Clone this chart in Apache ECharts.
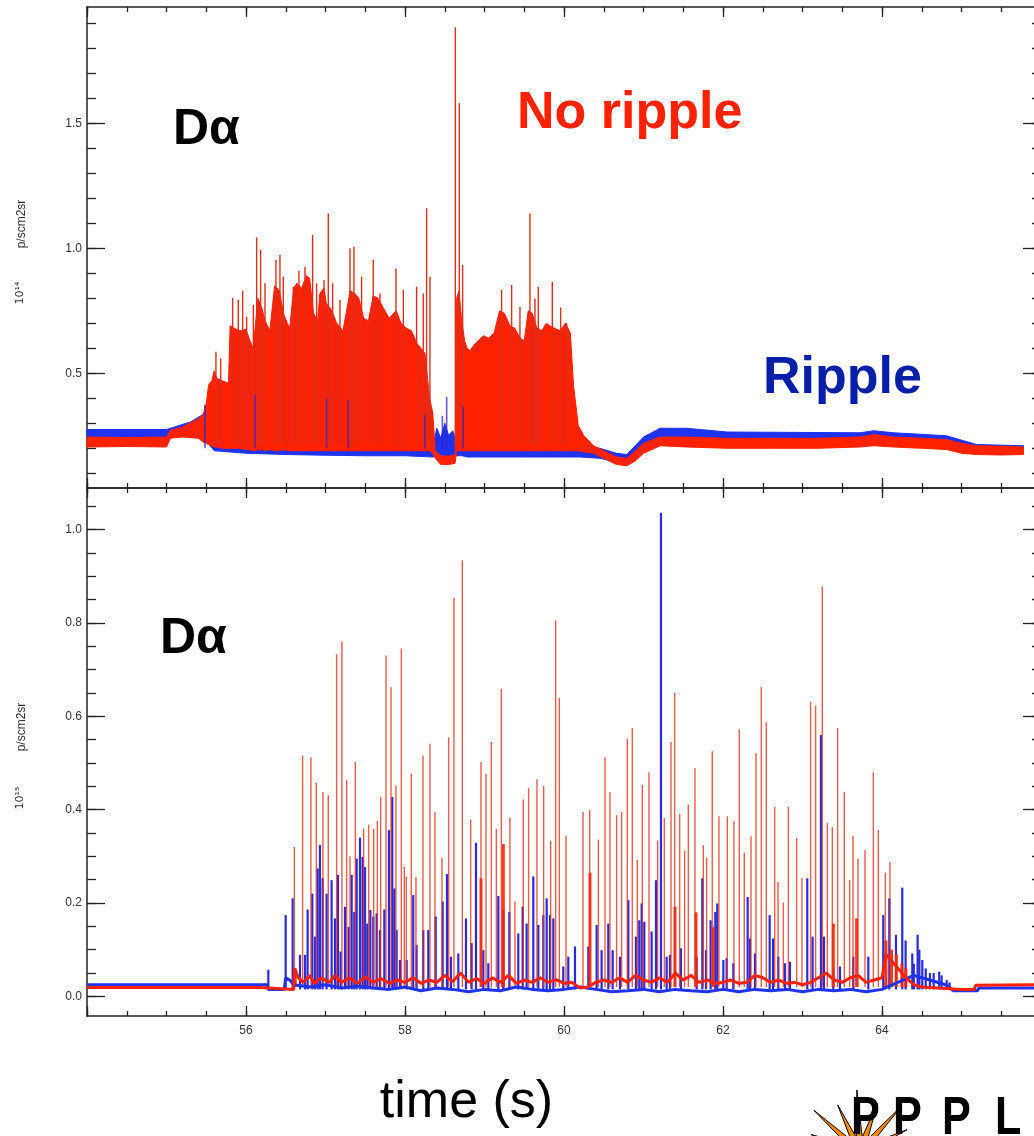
<!DOCTYPE html>
<html><head><meta charset="utf-8">
<script src="https://cdn.jsdelivr.net/npm/echarts@6/dist/echarts.min.js"></script>
<style>html,body{margin:0;padding:0;background:#fff}#c{width:1034px;height:1136px}</style>
</head><body><div id="c"></div>
<script>
// ================= DATA =================
// x axis (time, s)
const xMajorTicks = [54,56,58,60,62,64,66];
const xMinorTicks = [54,54.5,55,55.5,56,56.5,57,57.5,58,58.5,59,59.5,60,60.5,61,61.5,62,62.5,63,63.5,64,64.5,65,65.5,66];
const xTickLabels = [56,58,60,62,64];
// top panel y (10^14 p/scm2sr)
const topYMajor = [0.5,1.0,1.5];
const topYMinor = [0.1,0.2,0.3,0.4,0.5,0.6,0.7,0.8,0.9,1.0,1.1,1.2,1.3,1.4,1.5,1.6,1.7,1.8,1.9];
// bottom panel y (10^15 p/scm2sr)
const botYMajor = [0.0,0.2,0.4,0.6,0.8,1.0];
const botYMinor = [0,0.05,0.1,0.15,0.2,0.25,0.3,0.35,0.4,0.45,0.5,0.55,0.6,0.65,0.7,0.75,0.8,0.85,0.9,0.95,1.0,1.05];

// Top panel, Ripple (blue): [t, low, high] envelope of the trace
const topBlueBand = [
 [54.00,0.24,0.275],[55.00,0.24,0.275],[55.10,0.25,0.285],[55.30,0.27,0.305],[55.46,0.285,0.335],
 [55.50,0.23,0.32],[55.60,0.19,0.235],[56.00,0.18,0.225],[56.50,0.175,0.215],[57.00,0.172,0.215],
 [57.50,0.17,0.21],[58.00,0.17,0.21],[58.35,0.165,0.205],[58.40,0.17,0.28],[58.45,0.17,0.24],
 [58.50,0.17,0.30],[58.55,0.165,0.25],[58.60,0.165,0.27],[58.65,0.17,0.22],[58.72,0.17,0.30],
 [58.78,0.165,0.24],[58.85,0.165,0.21],[59.50,0.165,0.205],[60.20,0.165,0.205],[60.45,0.16,0.20],
 [60.66,0.145,0.18],[60.79,0.145,0.175],[61.00,0.19,0.245],[61.21,0.225,0.28],[61.54,0.225,0.28],
 [62.05,0.22,0.265],[63.72,0.22,0.262],[63.90,0.225,0.27],[64.14,0.22,0.262],[64.81,0.21,0.25],
 [65.19,0.185,0.215],[65.78,0.18,0.21]
];
// Top panel, No ripple (red): [t, low, high] envelope of the dense ELM trace
const topRedBand = [
 [54.00,0.205,0.245],[54.50,0.207,0.243],[55.00,0.205,0.245],[55.05,0.240,0.272],[55.20,0.245,0.285],
 [55.40,0.240,0.318],[55.46,0.225,0.333],[55.50,0.220,0.38],[55.53,0.215,0.453],[55.57,0.21,0.47],
 [55.60,0.205,0.51],[55.63,0.205,0.48],[55.70,0.20,0.47],[55.78,0.20,0.46],[55.80,0.20,0.69],
 [55.85,0.20,0.68],[55.92,0.20,0.67],[56.00,0.195,0.675],[56.05,0.195,0.63],[56.09,0.19,0.60],
 [56.12,0.19,0.70],[56.15,0.195,0.80],[56.20,0.195,0.76],[56.24,0.19,0.71],[56.30,0.195,0.67],
 [56.36,0.19,0.85],[56.42,0.19,0.83],[56.47,0.195,0.74],[56.52,0.19,0.70],[56.55,0.19,0.68],
 [56.60,0.19,0.84],[56.64,0.19,0.86],[56.70,0.19,0.84],[56.76,0.19,0.89],[56.80,0.19,0.88],
 [56.85,0.19,0.74],[56.90,0.19,0.71],[56.93,0.19,0.82],[56.98,0.19,0.84],[57.01,0.19,0.78],
 [57.08,0.19,0.75],[57.14,0.19,0.70],[57.22,0.19,0.67],[57.31,0.19,0.83],[57.36,0.19,0.82],
 [57.42,0.19,0.80],[57.48,0.19,0.72],[57.54,0.19,0.71],[57.60,0.19,0.81],[57.66,0.19,0.80],
 [57.73,0.19,0.76],[57.80,0.19,0.72],[57.89,0.19,0.75],[57.95,0.19,0.70],[58.02,0.19,0.68],
 [58.08,0.19,0.67],[58.15,0.19,0.62],[58.20,0.19,0.60],[58.25,0.19,0.58],[58.31,0.19,0.40],
 [58.35,0.18,0.34],[58.38,0.16,0.19],[58.45,0.135,0.17],[58.55,0.135,0.168],[58.63,0.14,0.175],
 [58.65,0.19,0.80],[58.68,0.19,0.83],[58.71,0.19,0.72],[58.75,0.19,0.63],[58.78,0.19,0.60],
 [58.82,0.19,0.59],[58.86,0.19,0.61],[58.92,0.19,0.63],[58.99,0.19,0.65],[59.05,0.19,0.64],
 [59.12,0.19,0.66],[59.19,0.19,0.75],[59.25,0.19,0.74],[59.32,0.19,0.69],[59.38,0.19,0.68],
 [59.45,0.19,0.64],[59.50,0.19,0.63],[59.55,0.19,0.75],[59.60,0.19,0.74],[59.66,0.19,0.68],
 [59.72,0.19,0.67],[59.78,0.19,0.70],[59.82,0.19,0.69],[59.88,0.19,0.68],[59.95,0.19,0.67],
 [60.02,0.19,0.70],[60.08,0.19,0.66],[60.12,0.19,0.45],[60.18,0.19,0.29],[60.25,0.185,0.25],
 [60.37,0.18,0.21],[60.50,0.16,0.19],[60.66,0.135,0.165],[60.79,0.13,0.16],[60.90,0.15,0.19],
 [61.00,0.18,0.22],[61.21,0.21,0.245],[61.54,0.205,0.245],[62.05,0.20,0.24],[62.60,0.20,0.24],
 [63.20,0.20,0.24],[63.72,0.205,0.245],[63.90,0.21,0.255],[64.14,0.205,0.245],[64.50,0.20,0.24],
 [64.81,0.195,0.235],[65.00,0.18,0.22],[65.19,0.175,0.21],[65.50,0.173,0.208],[65.78,0.175,0.205]
];
// Top panel, red individual ELM spikes: [t, peak]
const topRedSpikes = [
 [55.484,0.373],[55.622,0.586],[55.681,0.560],[55.832,0.802],[55.903,0.793],[55.958,0.830],
 [56.008,0.726],[56.092,0.773],[56.134,1.043],[56.184,0.993],[56.239,0.860],[56.377,0.953],
 [56.427,0.973],[56.469,0.886],[56.595,0.846],[56.666,0.910],[56.742,0.926],[56.838,1.053],
 [56.888,0.860],[56.981,0.873],[57.035,1.139],[57.090,0.860],[57.182,0.793],[57.308,1.000],
 [57.358,1.006],[57.454,0.886],[57.601,0.953],[57.685,0.819],[57.886,0.919],[57.979,0.833],
 [58.146,0.846],[58.230,0.819],[58.272,1.160],[58.314,0.886],[58.633,1.884],[58.683,1.580],
 [58.725,0.933],[59.215,0.833],[59.341,0.853],[59.446,0.766],[59.572,1.139],[59.635,0.799],
 [59.677,0.846],[59.853,0.866],[59.958,0.763],[60.033,0.700]
];
// Top panel, blue spikes: [t, peak]
const topBlueSpikes = [
 [55.484,0.370],[56.113,0.413],[57.014,0.400],[57.287,0.393],[58.251,0.333],
 [58.470,0.330],[58.524,0.406],[58.730,0.366]
];

// Bottom panel baselines: [t, value]
const botBlueBase = [
 [54.00,0.025],[56.26,0.025],[56.28,0.015],[56.48,0.015],[56.50,0.04],[56.55,0.035],[56.60,0.025],
 [56.80,0.02],[57.00,0.025],[57.20,0.018],[57.40,0.022],[57.60,0.018],[57.80,0.015],[58.00,0.02],
 [58.20,0.012],[58.40,0.018],[58.60,0.015],[58.80,0.01],[59.00,0.015],[59.20,0.012],[59.40,0.02],
 [59.60,0.015],[59.80,0.012],[60.00,0.015],[60.20,0.02],[60.40,0.015],[60.60,0.01],[60.80,0.012],
 [61.00,0.015],[61.20,0.01],[61.40,0.015],[61.60,0.012],[61.80,0.01],[62.00,0.015],[62.20,0.01],
 [62.40,0.015],[62.60,0.012],[62.80,0.015],[63.00,0.01],[63.20,0.015],[63.40,0.012],[63.60,0.015],
 [63.80,0.01],[64.00,0.015],[64.20,0.03],[64.40,0.045],[64.60,0.035],[64.80,0.025],[64.90,0.012],
 [65.20,0.012],[65.22,0.018],[65.95,0.018]
];
const botRedBase = [
 [54.00,0.019],[56.18,0.019],[56.20,0.015],[56.60,0.015],[56.61,0.06],[56.66,0.04],[56.72,0.03],
 [56.80,0.045],[56.86,0.028],[56.95,0.04],[57.05,0.03],[57.12,0.045],[57.20,0.03],[57.30,0.04],
 [57.40,0.028],[57.50,0.042],[57.60,0.03],[57.70,0.038],[57.80,0.028],[57.90,0.035],[58.00,0.03],
 [58.10,0.04],[58.20,0.028],[58.30,0.035],[58.40,0.03],[58.50,0.045],[58.60,0.032],[58.70,0.05],
 [58.80,0.03],[58.90,0.038],[59.00,0.028],[59.10,0.04],[59.20,0.03],[59.30,0.045],[59.40,0.028],
 [59.50,0.035],[59.60,0.03],[59.70,0.04],[59.80,0.03],[59.90,0.036],[60.00,0.028],[60.10,0.03],
 [60.20,0.018],[60.30,0.02],[60.40,0.03],[60.50,0.035],[60.60,0.03],[60.70,0.04],[60.80,0.03],
 [60.90,0.045],[61.00,0.035],[61.10,0.03],[61.20,0.04],[61.30,0.03],[61.40,0.05],[61.50,0.035],
 [61.60,0.045],[61.70,0.03],[61.80,0.035],[61.90,0.028],[62.00,0.03],[62.10,0.035],[62.20,0.028],
 [62.30,0.03],[62.40,0.045],[62.50,0.04],[62.60,0.03],[62.70,0.035],[62.80,0.028],[62.90,0.03],
 [63.00,0.025],[63.10,0.03],[63.20,0.04],[63.30,0.05],[63.40,0.035],[63.50,0.03],[63.60,0.04],
 [63.70,0.045],[63.80,0.03],[63.90,0.035],[64.00,0.04],[64.05,0.09],[64.10,0.08],[64.20,0.06],
 [64.30,0.04],[64.40,0.025],[64.50,0.02],[64.70,0.018],[65.00,0.015],[65.16,0.015],[65.18,0.024],
 [65.95,0.025]
];
// Bottom panel spikes: [t, peak]
const botBlueSpikes = [
 [56.281,0.057],[56.499,0.174],[56.587,0.210],[56.679,0.089],[56.742,0.089],[56.775,0.186],
 [56.834,0.220],[56.868,0.128],[56.901,0.274],[56.930,0.324],[56.964,0.253],[57.014,0.220],
 [57.077,0.249],[57.119,0.167],[57.157,0.260],[57.190,0.096],[57.245,0.192],[57.291,0.149],
 [57.329,0.260],[57.362,0.181],[57.392,0.295],[57.434,0.340],[57.467,0.299],[57.497,0.277],
 [57.526,0.156],[57.564,0.185],[57.601,0.171],[57.643,0.178],[57.685,0.142],[57.740,0.186],
 [57.798,0.356],[57.840,0.427],[57.866,0.231],[57.895,0.142],[57.937,0.078],[58.021,0.078],
 [58.104,0.217],[58.146,0.110],[58.230,0.142],[58.293,0.142],[58.386,0.171],[58.474,0.203],
 [58.528,0.262],[58.578,0.085],[58.671,0.092],[58.767,0.167],[58.838,0.114],[58.893,0.329],
 [58.985,0.099],[59.048,0.071],[59.174,0.215],[59.237,0.185],[59.312,0.181],[59.425,0.135],
 [59.480,0.192],[59.530,0.156],[59.614,0.257],[59.677,0.153],[59.740,0.174],[59.782,0.210],
 [59.824,0.174],[59.866,0.167],[59.991,0.064],[60.054,0.085],[60.138,0.107],[60.306,0.107],
 [60.411,0.153],[60.473,0.099],[60.557,0.156],[60.612,0.099],[60.704,0.085],[60.809,0.206],
 [60.905,0.128],[60.947,0.163],[60.977,0.199],[61.010,0.160],[61.102,0.139],[61.157,0.249],
 [61.220,1.036],[61.291,0.085],[61.333,0.089],[61.471,0.103],[61.668,0.085],[61.740,0.253],
 [61.786,0.099],[61.844,0.163],[61.903,0.181],[61.928,0.199],[62.004,0.078],[62.046,0.082],
 [62.130,0.071],[62.310,0.213],[62.339,0.124],[62.402,0.092],[62.587,0.174],[62.629,0.124],
 [62.696,0.085],[62.780,0.071],[62.842,0.074],[63.060,0.253],[63.127,0.128],[63.232,0.560],
 [63.270,0.128],[63.387,0.060],[63.471,0.064],[63.639,0.085],[63.828,0.085],[64.016,0.174],
 [64.092,0.210],[64.176,0.132],[64.255,0.233],[64.297,0.120],[64.381,0.092],[64.400,0.070],
 [64.448,0.132],[64.470,0.100],[64.507,0.078],[64.550,0.060],[64.603,0.050],[64.650,0.050],
 [64.720,0.053],[64.750,0.045],[64.813,0.035],[64.850,0.030]
];
const botRedSpikes = [
 [56.608,0.320],[56.712,0.516],[56.817,0.512],[56.884,0.457],[56.968,0.438],[57.035,0.431],
 [57.140,0.733],[57.207,0.760],[57.266,0.463],[57.308,0.300],[57.375,0.502],[57.480,0.359],
 [57.543,0.368],[57.606,0.359],[57.652,0.376],[57.694,0.427],[57.761,0.730],[57.824,0.662],
 [57.886,0.452],[57.954,0.745],[57.991,0.277],[58.016,0.256],[58.079,0.477],[58.138,0.256],
 [58.226,0.516],[58.314,0.541],[58.377,0.395],[58.465,0.297],[58.549,0.555],[58.616,0.854],
 [58.721,0.934],[58.826,0.379],[58.956,0.502],[59.019,0.477],[59.086,0.545],[59.149,0.359],
 [59.212,0.659],[59.320,0.383],[59.383,0.203],[59.488,0.422],[59.555,0.446],[59.660,0.465],
 [59.744,0.451],[59.832,0.333],[59.895,0.805],[59.941,0.639],[60.025,0.344],[60.239,0.395],
 [60.323,0.399],[60.432,0.336],[60.516,0.512],[60.578,0.438],[60.662,0.388],[60.725,0.395],
 [60.796,0.552],[60.859,0.575],[60.922,0.292],[60.985,0.453],[61.069,0.480],[61.178,0.334],
 [61.262,0.382],[61.346,0.545],[61.392,0.650],[61.455,0.391],[61.517,0.312],[61.564,0.411],
 [61.647,0.489],[61.752,0.324],[61.794,0.297],[61.865,0.525],[61.949,0.386],[62.054,0.386],
 [62.138,0.375],[62.205,0.572],[62.268,0.308],[62.352,0.343],[62.415,0.521],[62.482,0.662],
 [62.545,0.587],[62.650,0.406],[62.692,0.245],[62.759,0.201],[62.822,0.406],[62.926,0.339],
 [62.993,0.253],[63.102,0.631],[63.165,0.623],[63.249,0.878],[63.312,0.371],[63.375,0.363],
 [63.442,0.575],[63.526,0.438],[63.593,0.249],[63.635,0.344],[63.698,0.295],[63.786,0.313],
 [63.891,0.480],[63.954,0.356],[64.042,0.265],[64.100,0.288]
];
// Bottom panel, thicker red bursts near the baseline: [t, peak]
const botRedBursts = [
 [56.62,0.06],[58.956,0.253],[59.237,0.326],[60.327,0.265],[61.396,0.192],[61.660,0.180],
 [61.878,0.149],[63.388,0.156],[63.681,0.167],[64.05,0.12],[64.12,0.10],[64.18,0.09],
 [64.25,0.07],[64.30,0.06]
];

// ================= CHART =================
const RED = '#ff2200', BLUE = '#1e32f0', AX = '#222';
const chart = echarts.init(document.getElementById('c'), null, {renderer: 'canvas'});

function mkX(gridIndex, position, ticks, len, showLine, labels) {
  return {
    type: 'value', gridIndex, position, min: 54, max: 66,
    axisLine: {show: showLine, onZero: false, lineStyle: {color: AX, width: 1.5}},
    axisTick: {show: true, inside: true, length: len, customValues: ticks, lineStyle: {color: AX, width: 1.3}},
    axisLabel: labels ? {show: true, customValues: labels, margin: 9, fontSize: 12, color: '#333',
      fontFamily: 'Liberation Sans', formatter: v => String(v)} : {show: false},
    splitLine: {show: false}
  };
}
function mkY(gridIndex, position, min, max, ticks, len, showLine, labels) {
  return {
    type: 'value', gridIndex, position, min, max,
    axisLine: {show: showLine, onZero: false, lineStyle: {color: AX, width: 1.5}},
    axisTick: {show: true, inside: true, length: len, customValues: ticks, lineStyle: {color: AX, width: 1.3}},
    axisLabel: labels ? {show: true, customValues: labels, margin: 5, fontSize: 12, color: '#333',
      fontFamily: 'Liberation Sans', formatter: v => v.toFixed(1)} : {show: false},
    splitLine: {show: false}
  };
}
const T_MIN = 0.041, T_MAX = 1.965, B_MIN = -0.042, B_MAX = 1.089;

function bandSeries(rows, color, xi, yi) {
  return {
    type: 'custom', xAxisIndex: xi, yAxisIndex: yi, silent: true, data: rows,
    renderItem: function (params, api) {
      if (params.dataIndex !== 0) return null;
      const up = rows.map(r => api.coord([r[0], r[2]]));
      const lo = rows.slice().reverse().map(r => api.coord([r[0], r[1]]));
      return {type: 'polygon', shape: {points: up.concat(lo)}, style: {fill: color, stroke: color, lineWidth: 1}};
    }
  };
}
function spikeSeries(spikes, base, color, width, xi, yi, opacity) {
  return {
    type: 'custom', xAxisIndex: xi, yAxisIndex: yi, silent: true, data: spikes,
    renderItem: function (params, api) {
      const t = api.value(0);
      const p0 = api.coord([t, base]);
      const p1 = api.coord([t, api.value(1)]);
      return {type: 'line', shape: {x1: p0[0], y1: p0[1], x2: p1[0], y2: p1[1]},
        style: {stroke: color, lineWidth: width, opacity: opacity}};
    }
  };
}
function baseSeries(rows, color, width, xi, yi) {
  return {type: 'line', xAxisIndex: xi, yAxisIndex: yi, data: rows, symbol: 'none', silent: true,
    lineStyle: {color, width}, animation: false};
}

// starburst (logo decoration)
const star = [];
for (let i = 0; i < 32; i++) {
  const a = i * Math.PI / 16 + 0.05;
  const r = (i % 2 === 0) ? (i % 4 === 0 ? 62 : 52) : 15;
  star.push([860 + r * Math.cos(a), 1152 - r * Math.sin(a)]);
}
function letter(ch, x) {
  return {type: 'text', x: x, y: 1119, scaleX: 0.8, z: 10,
    style: {text: ch, font: 'bold 54px "Liberation Sans"', fill: '#000', align: 'left', verticalAlign: 'middle'}};
}

const option = {
  animation: false,
  backgroundColor: '#fff',
  grid: [
    {left: 87, top: 7, width: 954, height: 481, outerBoundsMode: 'none'},
    {left: 87, top: 488, width: 954, height: 528, outerBoundsMode: 'none'}
  ],
  xAxis: [
    mkX(0, 'bottom', xMajorTicks, 10, true, null),
    mkX(0, 'bottom', xMinorTicks, 5, false, null),
    mkX(0, 'top', xMajorTicks, 10, true, null),
    mkX(0, 'top', xMinorTicks, 5, false, null),
    mkX(1, 'bottom', xMajorTicks, 10, true, xTickLabels),
    mkX(1, 'bottom', xMinorTicks, 5, false, null),
    mkX(1, 'top', xMajorTicks, 10, true, null),
    mkX(1, 'top', xMinorTicks, 5, false, null)
  ],
  yAxis: [
    mkY(0, 'left', T_MIN, T_MAX, topYMajor, 18, true, topYMajor),
    mkY(0, 'left', T_MIN, T_MAX, topYMinor, 9, false, null),
    mkY(0, 'right', T_MIN, T_MAX, topYMajor, 18, true, null),
    mkY(0, 'right', T_MIN, T_MAX, topYMinor, 9, false, null),
    mkY(1, 'left', B_MIN, B_MAX, botYMajor, 18, true, botYMajor),
    mkY(1, 'left', B_MIN, B_MAX, botYMinor, 9, false, null),
    mkY(1, 'right', B_MIN, B_MAX, botYMajor, 18, true, null),
    mkY(1, 'right', B_MIN, B_MAX, botYMinor, 9, false, null)
  ],
  series: [
    bandSeries(topBlueBand, BLUE, 0, 0),
    bandSeries(topRedBand, RED, 0, 0),
    spikeSeries(topRedSpikes, 0.22, '#d8321e', 1.4, 0, 0, 1),
    spikeSeries(topBlueSpikes, 0.20, '#3a22c0', 1.6, 0, 0, 0.75),
    baseSeries(botBlueBase, BLUE, 3, 4, 4),
    spikeSeries(botBlueSpikes, 0.015, '#2a2ad8', 2.2, 4, 4, 1),
    baseSeries(botRedBase, RED, 3, 4, 4),
    spikeSeries(botRedBursts, 0.02, RED, 3, 4, 4, 0.9),
    spikeSeries(botRedSpikes, 0.02, '#e0341f', 1.4, 4, 4, 0.8)
  ],
  graphic: [
    {type: 'text', x: 173, y: 130.7, style: {text: 'D\u03b1', font: 'bold 50px "Liberation Sans"', fill: '#000', align: 'left', verticalAlign: 'middle'}},
    {type: 'text', x: 160, y: 639.7, style: {text: 'D\u03b1', font: 'bold 50px "Liberation Sans"', fill: '#000', align: 'left', verticalAlign: 'middle'}},
    {type: 'text', x: 517, y: 114, style: {text: 'No ripple', font: 'bold 52px "Liberation Sans"', fill: RED, align: 'left', verticalAlign: 'middle'}},
    {type: 'text', x: 763, y: 378.7, style: {text: 'Ripple', font: 'bold 52px "Liberation Sans"', fill: '#0a1fa8', align: 'left', verticalAlign: 'middle'}},
    {type: 'text', x: 20, y: 293, rotation: Math.PI / 2, style: {text: '10\u00b9\u2074', font: '11px "DejaVu Sans"', fill: '#333', align: 'center', verticalAlign: 'middle'}},
    {type: 'text', x: 22, y: 224, rotation: Math.PI / 2, style: {text: 'p/scm2sr', font: '12px "Liberation Sans"', fill: '#333', align: 'center', verticalAlign: 'middle'}},
    {type: 'text', x: 20, y: 798, rotation: Math.PI / 2, style: {text: '10\u00b9\u2075', font: '11px "DejaVu Sans"', fill: '#333', align: 'center', verticalAlign: 'middle'}},
    {type: 'text', x: 22, y: 727, rotation: Math.PI / 2, style: {text: 'p/scm2sr', font: '12px "Liberation Sans"', fill: '#333', align: 'center', verticalAlign: 'middle'}},
    {type: 'text', x: 466.5, y: 1103, style: {text: 'time (s)', font: '52px "Liberation Sans"', fill: '#000', align: 'center', verticalAlign: 'middle'}},
    {type: 'polygon', shape: {points: star}, style: {fill: '#ff8a00', stroke: '#000', lineWidth: 1}},
    letter('P', 851), letter('P', 893), letter('P', 942), letter('L', 995)
  ]
};
chart.setOption(option);
</script>
</body></html>
